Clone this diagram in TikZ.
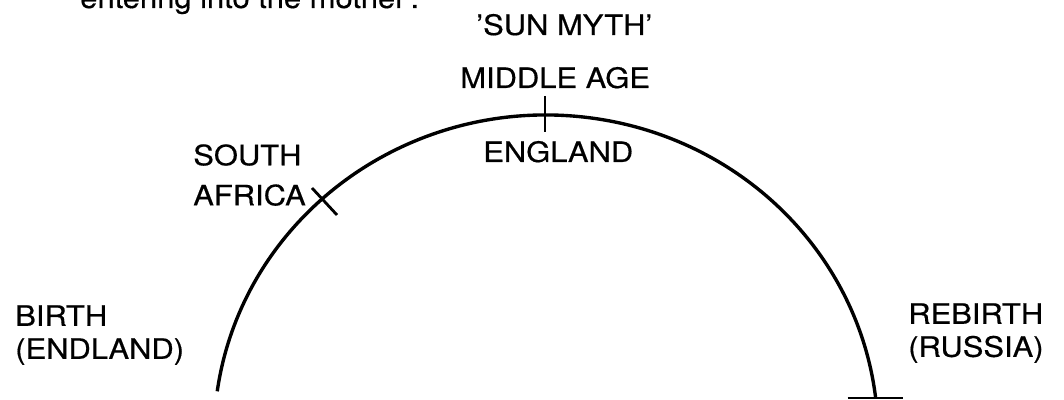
\documentclass[tikz,border=0pt]{standalone}
\usepackage{fontspec}
\setmainfont{TeX Gyre Heros}[FakeStretch=1.1,FakeBold=0.5]
\usepackage{tikz}

\begin{document}
\begin{tikzpicture}[
  txt/.style={inner sep=0pt, align=left, font=\fontsize{20}{23.5}\selectfont},
  sunpath/.style={line width=2.4pt},
  tickline/.style={line width=2pt}
]
\useasboundingbox (0,0) rectangle (26.6,10);
\clip (0,0) rectangle (26.6,10);

\node[txt, anchor=base west] (note) at (2.0,9.8) {entering into the mother'.};
\node[txt, anchor=base west] (title) at (11.9,9.125) {'SUN MYTH'};
\node[txt, anchor=base west] (middle) at (11.5,7.8) {MIDDLE AGE};
\node[txt, anchor=base west] (england) at (12.075,5.95) {ENGLAND};
\node[txt, anchor=north west] (safrica) at (4.825,6.4) {SOUTH\\[5pt]AFRICA};
\node[txt, anchor=north west] (birth) at (0.375,2.375) {BIRTH\\(ENDLAND)};
\node[txt, anchor=north west] (rebirth) at (22.7,2.425) {REBIRTH\\(RUSSIA)};

\coordinate (ctr) at (13.65,-0.9);
\draw[sunpath] (ctr) ++(172:8.3 and 8.025)
  arc[start angle=172, end angle=6.8, x radius=8.3cm, y radius=8.025cm] coordinate (rend);

\coordinate (mid-out) at (13.625,7.6);
\coordinate (mid-in) at (13.625,6.7);
\coordinate (sa-out) at (7.8,5.3);
\coordinate (sa-in) at (8.425,4.625);
\coordinate (re-left) at ([xshift=-0.7cm]rend);
\coordinate (re-right) at ([xshift=0.675cm]rend);

\draw[tickline] (mid-out) -- (mid-in);
\draw[tickline] (sa-out) -- (sa-in);
\draw[tickline] (re-left) -- (re-right);

\end{tikzpicture}
\end{document}
